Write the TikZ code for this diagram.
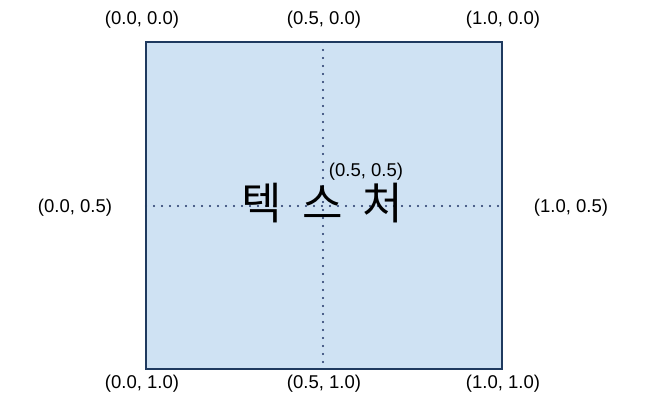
\documentclass[tikz,border=0pt]{standalone}
\usepackage{fontspec}
\setmainfont{Liberation Sans}
\newfontfamily\kofont{Noto Sans CJK KR}
\definecolor{boxfill}{HTML}{CFE2F3}
\definecolor{boxline}{HTML}{1F3A5F}
\definecolor{dotline}{HTML}{1F3366}
\begin{document}
\begin{tikzpicture}[x=1pt,y=-1pt,
  lbl/.style={font=\fontsize{18.5}{22}\selectfont, inner sep=0pt},
  guide/.style={dotline, line width=2.2pt, line cap=round, dash pattern=on 0pt off 8pt}]
\useasboundingbox (0,0) rectangle (652,413);
\coordinate (tl) at (146,42);
\coordinate (br) at (502,369);
\coordinate (tm) at (323,42);
\coordinate (bm) at (323,369);
\coordinate (lm) at (146,206);
\coordinate (rm) at (502,206);
\fill[boxfill] (tl) rectangle (br);
\draw[guide] (tm) -- (bm);
\draw[guide] (lm) -- (rm);
\draw[boxline, line width=1.4pt] (tl) rectangle (br);
\node[font=\kofont\fontsize{44}{48}\selectfont, inner sep=0pt] (tex) at (322.5,203) {텍\hspace{20pt}스\hspace{20pt}처};
\node[lbl] (c55) at (366,172) {(0.5, 0.5)};
\node[lbl] (c00) at (142,20) {(0.0, 0.0)};
\node[lbl] (c50) at (324,20) {(0.5, 0.0)};
\node[lbl] (c10) at (503,20) {(1.0, 0.0)};
\node[lbl] (c05) at (75,208) {(0.0, 0.5)};
\node[lbl] (c15) at (571,208) {(1.0, 0.5)};
\node[lbl] (c01) at (142,384) {(0.0, 1.0)};
\node[lbl] (c51) at (324,384) {(0.5, 1.0)};
\node[lbl] (c11) at (503,384) {(1.0, 1.0)};
\end{tikzpicture}
\end{document}
